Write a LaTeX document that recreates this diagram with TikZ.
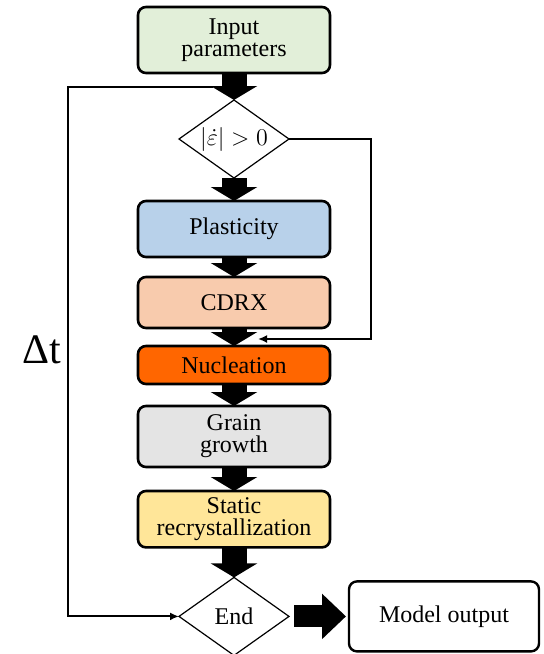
\documentclass[tikz,border=0pt]{standalone}
\usepackage{fontspec}
\setmainfont{Liberation Serif}
\usetikzlibrary{positioning}
\usetikzlibrary{shapes.geometric}
\usetikzlibrary {arrows.meta}
\definecolor{inputgreen}{HTML}{E2EFD9}
\definecolor{plastblue}{HTML}{B8D1EA}
\definecolor{cdrxpeach}{HTML}{F8CBAD}
\definecolor{nucorange}{HTML}{FF6600}
\definecolor{graingray}{HTML}{E4E4E4}
\definecolor{staticyellow}{HTML}{FFE699}
\tikzset{stage/.style={rectangle,rounded corners=4pt,draw=black,line width=1.3pt,
outer sep=0pt,minimum width=96pt,align=center,font=\fontsize{12}{11}\selectfont}}
\tikzset{check/.style={diamond,aspect=1.43,draw=black,line width=0.6pt,fill=white,
outer sep=0pt,inner sep=0pt,minimum width=55pt,minimum height=39pt,font=\fontsize{12}{11}\selectfont}}
\tikzset{fatarrow/.style={line width=12.5pt,-{Triangle[width=23pt,length=7pt]}}}
\tikzset{loopline/.style={line width=1pt,-{Latex[length=4.5pt,width=4pt]}}}

\begin{document}
\begin{tikzpicture}[x=0.5pt,y=-0.5pt]
        \useasboundingbox (0,0) rectangle (544,654);

        \node[stage,fill=inputgreen,minimum height=33pt] (boxInput) at (234,40) {Input\\parameters};
        \node[check] (boxCheck) [below=13.5pt of boxInput] {$|\dot{\varepsilon}|>0$};
        \node[stage,fill=plastblue,minimum height=28pt] (boxPlast) [below=11.5pt of boxCheck] {Plasticity};
        \node[stage,fill=cdrxpeach,minimum height=25.5pt] (boxCdrx) [below=10pt of boxPlast] {CDRX};
        \node[stage,fill=nucorange,minimum height=19pt] (boxNuc) [below=9pt of boxCdrx] {Nucleation};
        \node[stage,fill=graingray,minimum height=30.5pt] (boxGrain) [below=11pt of boxNuc] {Grain\\growth};
        \node[stage,fill=staticyellow,minimum height=26.5pt] (boxStatic) [below=12pt of boxGrain] {Static\\recrystallization};
        \node[check] (boxEnd) [below=15pt of boxStatic] {End};
        \node[stage,fill=white,line width=1.2pt,minimum width=95pt,minimum height=35pt] (boxOut) [right=30pt of boxEnd] {Model output};

        \node[font=\fontsize{21}{25}\selectfont] (labelDt) at (42,350) {Δt};

        \draw[fatarrow] (boxInput) -- (boxCheck.north);
        \draw[fatarrow] (boxCheck.south) -- (boxPlast);
        \draw[fatarrow] (boxPlast) -- (boxCdrx);
        \draw[fatarrow] (boxCdrx) -- (boxNuc);
        \draw[fatarrow] (boxNuc) -- (boxGrain);
        \draw[fatarrow] (boxGrain) -- (boxStatic);
        \draw[fatarrow] (boxStatic) -- (boxEnd.north);
        \draw[line width=11pt,-{Triangle[width=22pt,length=12pt]},shorten <=2.5pt,shorten >=1.5pt] (boxEnd.east) -- (boxOut);

        % time step loop back to the end check
        \coordinate (loopStart) at (213,87);
        \coordinate (loopCorner) at (68,350);
        \draw[loopline] (loopStart) -| (loopCorner) |- (boxEnd.west);

        % skip straight to nucleation when there is no strain rate
        \coordinate (skipCorner) at (371,200);
        \coordinate (skipEnd) at (258,339);
        \draw[loopline] (boxCheck.east) -| (skipCorner) |- (skipEnd);

\end{tikzpicture}
\end{document}
